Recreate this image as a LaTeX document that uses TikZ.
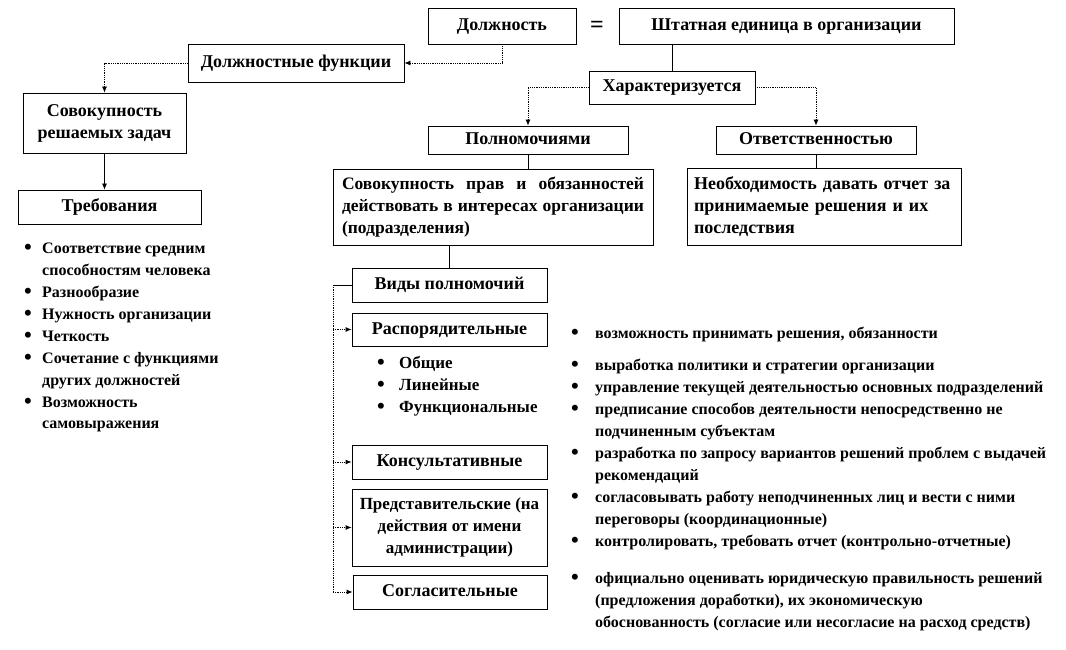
\documentclass[tikz,border=0pt]{standalone}
\usepackage{fontspec}
\setmainfont{Liberation Serif}
\usetikzlibrary{arrows.meta}
\newcommand\bul{\raisebox{-1.2pt}{\fontsize{22}{22}\selectfont\textbullet}}
\begin{document}
\begin{tikzpicture}[x=1pt,y=-1pt,
  every node/.style={font=\fontsize{18}{22}\selectfont\bfseries, inner sep=0pt},
  box/.style={draw=black, line width=0.8pt, align=center, fill=white},
  sbox/.style={box, text height=13pt, text depth=4pt},
  conn/.style={line width=0.7pt},
  dotconn/.style={line width=0.8pt, densely dotted},
  arr/.style={-{Latex[length=6pt,width=5pt]}},
  lst/.style={anchor=base west, align=left, font=\fontsize{16}{22}\selectfont\bfseries}
]
\useasboundingbox (0,0) rectangle (1066,650);
\fill[white] (0,0) rectangle (1066,650);

% boxes
\node[sbox, minimum width=148pt, minimum height=36pt] (dolzh) at (502,26) {Должность};
\node[font=\fontsize{24}{24}\selectfont\bfseries] (eq) at (597,27) {=};
\node[sbox, minimum width=335pt, minimum height=36pt] (shtat) at (786.5,26) {Штатная единица в организации};
\node[sbox, minimum width=216pt, minimum height=38pt] (func) at (296,63) {Должностные функции};
\node[box, minimum width=163pt, minimum height=60pt] (sovzad) at (104.5,123) {Совокупность\\решаемых задач};
\node[sbox, minimum width=183pt, minimum height=34pt] (treb) at (109.5,207) {Требования};
\node[sbox, minimum width=166pt, minimum height=33pt] (har) at (672,87.5) {Характеризуется};
\node[sbox, minimum width=200pt, minimum height=28pt] (poln) at (528,140) {Полномочиями};
\node[sbox, minimum width=200pt, minimum height=28pt] (otv) at (816,140) {Ответственностью};
\node[box, minimum width=320pt, minimum height=76pt, text width=302pt, align=justify, inner xsep=9pt,
  font=\fontsize{17.5}{22}\selectfont\bfseries] (sovprav) at (493,207)
  {Совокупность прав и обязанностей действовать в интересах организации (подразделения)};
\node[box, minimum width=274pt, minimum height=77pt, text width=260pt, align=left, inner xsep=7pt] (neobh) at (824,206.5)
  {Необходимость давать отчет за\\принимаемые решения и их\\последствия};
\node[sbox, minimum width=195pt, minimum height=34pt] (vidy) at (449.5,285) {Виды полномочий};
\node[sbox, minimum width=195pt, minimum height=33pt] (rasp) at (449.5,329.5) {Распорядительные};
\node[sbox, minimum width=195pt, minimum height=34pt] (kons) at (449.5,462) {Консультативные};
\node[box, minimum width=195pt, minimum height=77pt, font=\fontsize{17}{22}\selectfont\bfseries] (pred) at (449.5,527.5) {Представительские (на\\действия от имени\\администрации)};
\node[sbox, minimum width=194pt, minimum height=34pt] (sogl) at (450,592) {Согласительные};

% lists
\node[lst] (treblist) at (24,253) {\begin{tabular}[t]{@{}p{18pt}@{}l@{}}
\bul & Соответствие средним\\
 & способностям человека\\
\bul & Разнообразие\\
\bul & Нужность организации\\
\bul & Четкость\\
\bul & Сочетание с функциями\\
 & других должностей\\
\bul & Возможность\\
 & самовыражения
\end{tabular}};

\node[lst, font=\fontsize{17}{22}\selectfont\bfseries] (rasplist) at (377,368) {\begin{tabular}[t]{@{}p{22pt}@{}l@{}}
\bul & Общие\\
\bul & Линейные\\
\bul & Функциональные
\end{tabular}};

\node[lst] (r1) at (571,338) {\begin{tabular}[t]{@{}p{24pt}@{}l@{}}
\bul & возможность принимать решения, обязанности
\end{tabular}};

\node[lst] (r2) at (571,370) {\begin{tabular}[t]{@{}p{24pt}@{}l@{}}
\bul & выработка политики и стратегии организации\\
\bul & управление текущей деятельностью основных подразделений\\
\bul & предписание способов деятельности непосредственно не\\
 & подчиненным субъектам\\
\bul & разработка по запросу вариантов решений проблем с выдачей\\
 & рекомендаций\\
\bul & согласовывать работу неподчиненных лиц и вести с ними\\
 & переговоры (координационные)\\
\bul & контролировать, требовать отчет (контрольно-отчетные)
\end{tabular}};

\node[lst] (r3) at (571,583) {\begin{tabular}[t]{@{}p{24pt}@{}l@{}}
\bul & официально оценивать юридическую правильность решений\\
 & (предложения доработки), их экономическую\\
 & обоснованность (согласие или несогласие на расход средств)
\end{tabular}};

% connectors
\draw[dotconn, arr] (dolzh.south) |- (func.east);
\draw[dotconn, arr] (func.west) -| (sovzad.north);
\draw[conn, arr] (sovzad.south) -- (sovzad.south |- treb.north);
\draw[conn] (har.north) -- (har.north |- shtat.south);
\draw[dotconn, arr] (har.west) -| (poln.north);
\draw[dotconn, arr] (har.east) -| (otv.north);
\draw[conn] (poln.south) -- (poln.south |- sovprav.north);
\draw[conn] (otv.south) -- (otv.south |- neobh.north);
\draw[conn] (vidy.north) -- (vidy.north |- sovprav.south);
\coordinate (vl) at (333,285);
\coordinate (vb) at (333,592);
\draw[conn] (vidy.west) -- (vl);
\draw[dotconn] (vl) -- (vb);
\foreach \b in {rasp,kons,pred,sogl}{
  \draw[dotconn, arr] (vl |- \b.west) -- (\b.west);
}
\end{tikzpicture}
\end{document}
